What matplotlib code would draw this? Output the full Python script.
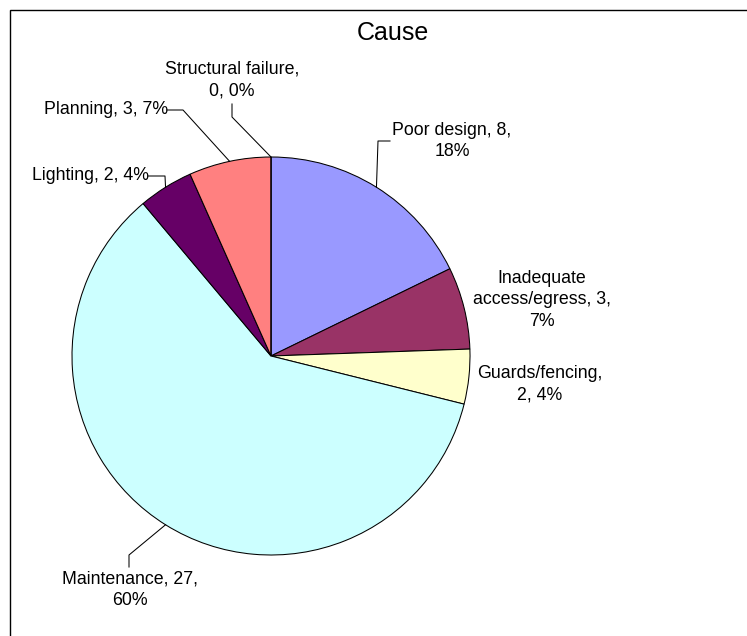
import numpy as np
import matplotlib
matplotlib.use("Agg")
import matplotlib.pyplot as plt

plt.rcParams['font.family'] = ['Liberation Sans', 'DejaVu Sans']

# Data
causes = ["Poor design", "Inadequate access/egress", "Guards/fencing",
          "Maintenance", "Lighting", "Planning", "Structural failure"]
counts = [8, 3, 2, 27, 2, 3, 0]
colors = ["#9999FF", "#993366", "#FFFFCC", "#CCFFFF", "#660066", "#FF8080", "#FFFFFF"]
title = "Cause"

# Label layout: text template, text centre (px), leader knee points (px)
label_fmt = [
    "{n}, {v},\n{p}%",
    "Inadequate\naccess/egress, {v},\n{p}%",
    "{n},\n{v}, {p}%",
    "{n}, {v},\n{p}%",
    "{n}, {v}, {p}%",
    "{n}, {v}, {p}%",
    "{n},\n{v}, {p}%",
]
label_pos = [(452, 141), (542, 300), (540, 384), (130, 590),
             (90, 176), (106, 110), (232, 80)]
leader_knees = [
    [(378, 141), (390, 141)],
    None,
    None,
    [(129, 555), (129, 567)],
    [(165, 176), (148, 176)],
    [(183, 110), (167, 110)],
    [(232, 117), (232, 104)],
]

W, H = 747, 636
CX, CY, R = 271, 356, 199


def fy(y):
    return H - y


fig = plt.figure(figsize=(W / 100, H / 100), dpi=100)
ax = fig.add_axes([0, 0, 1, 1])
ax.set_xlim(0, W)
ax.set_ylim(0, H)
ax.axis("off")

# Chart frame (continues beyond the right and bottom edges)
ax.plot([10, 10, W + 5], [fy(H + 5), fy(9.5), fy(9.5)], color="black",
        lw=1.0, solid_capstyle="butt", solid_joinstyle="miter")

ax.pie(counts, colors=colors, startangle=90, counterclock=False,
       center=(CX, fy(CY)), radius=R, frame=True,
       wedgeprops=dict(edgecolor="black", linewidth=0.75))
ax.set_xlim(0, W)
ax.set_ylim(0, H)
ax.set_aspect("equal")
ax.axis("off")

total = sum(counts)
cum = 0.0
for name, v, fmt, pos, knees in zip(causes, counts, label_fmt, label_pos, leader_knees):
    frac = v / total
    mid = 90 - 360 * (cum + frac / 2)
    cum += frac
    pct = int(round(100 * frac))
    txt = fmt.format(n=name, v=v, p=pct)
    ax.text(pos[0], fy(pos[1]), txt, ha="center", va="center",
            multialignment="center", fontsize=12.8, linespacing=1.32)
    if knees:
        a = np.deg2rad(mid)
        px, py = CX + R * np.cos(a), CY - R * np.sin(a)
        xs = [px] + [k[0] for k in knees]
        ys = [fy(py)] + [fy(k[1]) for k in knees]
        ax.plot(xs, ys, color="black", lw=0.75)

ax.text(393, fy(33), title, ha="center", va="center", fontsize=18)

fig.savefig("out.png", dpi=100)
